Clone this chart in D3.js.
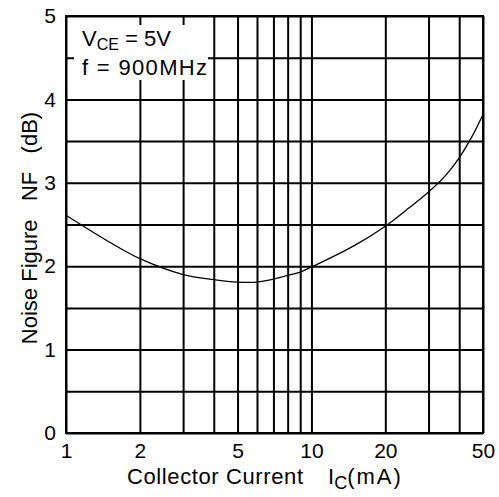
<!DOCTYPE html>
<html>
  <head>
    <meta charset="utf-8" />
    <script src="https://d3js.org/d3.v7.min.js"></script>
    <style>
      body { margin: 0; background: #fff; }
      text { font-family: "Liberation Sans", Arial, sans-serif; fill: #000; }
      .grid line { stroke: #000; stroke-width: 2; }
      .frame { stroke: #000; stroke-width: 2; fill: none; }
      .curve { stroke: #000; stroke-width: 1.3; fill: none; }
    </style>
  </head>
  <body>
    <div id="chart"></div>
    <script type="text/javascript">
      var w = 499, h = 497;
      var margin = {left: 66, top: 16, right: 16, bottom: 64};

      // collector current (mA) and noise figure (dB)
      var ic = [1, 1.5, 2, 3, 4, 5, 6, 7, 8, 9, 10, 15, 20, 25, 30, 35, 40, 45, 50];
      var nf = [2.61, 2.29, 2.09, 1.9, 1.84, 1.81, 1.81, 1.845, 1.89, 1.93, 1.99, 2.25, 2.48, 2.7, 2.89, 3.08, 3.3, 3.55, 3.82];

      var xGrid = [1, 2, 3, 4, 5, 6, 7, 8, 9, 10, 20, 30, 40, 50];
      var xTickLabels = [1, 2, 5, 10, 20, 50];
      var yGrid = [0, 0.5, 1, 1.5, 2, 2.5, 3, 3.5, 4, 4.5, 5];
      var yTickLabels = [0, 1, 2, 3, 4, 5];

      var x = d3.scaleLog().domain([1, 50]).range([margin.left, w - margin.right]);
      var y = d3.scaleLinear().domain([0, 5]).range([h - margin.bottom, margin.top]);

      var svg = d3.select("#chart").append("svg")
        .attr("width", w)
        .attr("height", h);

      // grid
      svg.append("g").attr("class", "grid")
        .attr("transform", "translate(0," + margin.top + ")")
        .call(d3.axisBottom(x).tickValues(xGrid).tickSize(h - margin.bottom - margin.top).tickFormat(""))
        .call(function(g) { g.select(".domain").remove(); });

      svg.append("g").attr("class", "grid")
        .attr("transform", "translate(" + margin.left + ",0)")
        .call(d3.axisRight(y).tickValues(yGrid).tickSize(w - margin.right - margin.left).tickFormat(""))
        .call(function(g) { g.select(".domain").remove(); });

      svg.append("rect").attr("class", "frame")
        .attr("x", x(1)).attr("y", y(5))
        .attr("width", x(50) - x(1)).attr("height", y(0) - y(5));

      // tick labels
      var xa = svg.append("g")
        .attr("transform", "translate(0," + (h - margin.bottom) + ")")
        .call(d3.axisBottom(x).tickValues(xTickLabels).tickSize(0).tickPadding(10).tickFormat(d3.format("d")));
      xa.select(".domain").remove();
      xa.selectAll("text").attr("font-size", 21).style("font-family", "Liberation Sans, Arial, sans-serif");

      var ya = svg.append("g")
        .attr("transform", "translate(" + margin.left + ",0)")
        .call(d3.axisLeft(y).tickValues(yTickLabels).tickSize(0).tickPadding(10).tickFormat(d3.format("d")));
      ya.select(".domain").remove();
      ya.selectAll("text").attr("font-size", 21).style("font-family", "Liberation Sans, Arial, sans-serif");

      // curve
      var line = d3.line()
        .x(function(d, i) { return x(ic[i]); })
        .y(function(d) { return y(d); })
        .curve(d3.curveCatmullRom);
      svg.append("path").attr("class", "curve").attr("d", line(nf));

      // condition box
      svg.append("rect").attr("x", 74).attr("y", 25).attr("width", 134).attr("height", 55).attr("fill", "#fff");
      var t1 = svg.append("text").attr("x", 82).attr("y", 46).attr("font-size", 22);
      t1.append("tspan").text("V");
      t1.append("tspan").attr("font-size", 16).attr("dy", 4).text("CE");
      t1.append("tspan").attr("dy", -4).text(" = 5V");
      svg.append("text").attr("x", 82).attr("y", 75).attr("font-size", 22)
        .attr("textLength", 125).text("f = 900MHz");

      // axis titles
      svg.append("text").attr("x", 127).attr("y", 484).attr("font-size", 22)
        .attr("textLength", 176).text("Collector Current");
      var xt = svg.append("text").attr("x", 328).attr("y", 484).attr("font-size", 22);
      xt.append("tspan").text("I");
      xt.append("tspan").attr("font-size", 18).attr("dy", 5).text("C");
      xt.append("tspan").attr("dy", -5).attr("letter-spacing", 2).text("(mA)");

      svg.append("text")
        .attr("transform", "translate(37,228) rotate(-90)")
        .attr("text-anchor", "middle")
        .attr("font-size", 22)
        .style("white-space", "pre")
        .text("Noise Figure   NF   (dB)");
    </script>
  </body>
</html>
